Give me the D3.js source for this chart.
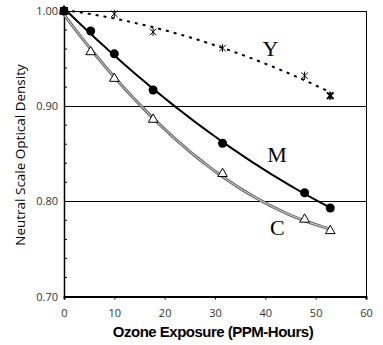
<!DOCTYPE html>
<html>
<head>
<meta charset="utf-8">
<script src="https://cdn.jsdelivr.net/npm/d3@7"></script>
<style>
body { margin: 0; background: #fff; }
svg { display: block; }
</style>
</head>
<body>
<div id="container"></div>
<script>
// exposure (PPM-Hours)
var exposure = [0, 5.3, 10, 17.7, 31.5, 47.8, 52.9];
var cyan = [1.0, 0.957, 0.929, 0.886, 0.829, 0.781, 0.769];
var magenta = [1.0, 0.979, 0.955, 0.917, 0.861, 0.809, 0.793];
var yellowX = [0, 10, 17.7, 31.5, 47.8, 52.9];
var yellow = [1.0, 0.997, 0.978, 0.961, 0.932, 0.911];
var xTicks = [0, 10, 20, 30, 40, 50, 60];
var yTicks = [0.70, 0.80, 0.90, 1.00];
var seriesNames = ["Y", "M", "C"];

var W = 383, H = 345;
var svg = d3.select("#container").append("svg")
	.attr("width", W)
	.attr("height", H);

var x = d3.scaleLinear().domain([0, 60]).range([64, 366]);
var y = d3.scaleLinear().domain([0.70, 1.00]).range([296.5, 11]);

// minor y ticks
var minor = d3.range(0.72, 1.0, 0.02).filter(function(v) {
	return Math.abs(v * 10 - Math.round(v * 10)) > 0.01;
});
svg.selectAll(".minor")
	.data(minor).enter()
	.append("line")
	.attr("x1", x(0)).attr("x2", x(0) + 3)
	.attr("y1", function(d) { return y(d); })
	.attr("y2", function(d) { return y(d); })
	.attr("stroke", "#000").attr("stroke-width", 1);

// grid lines
svg.selectAll(".grid")
	.data([0.80, 0.90, 1.00]).enter()
	.append("line")
	.attr("x1", x(0)).attr("x2", x(60))
	.attr("y1", function(d) { return Math.round(y(d)) + 0.5; })
	.attr("y2", function(d) { return Math.round(y(d)) + 0.5; })
	.attr("stroke", "#000").attr("stroke-width", 1);

// right border
svg.append("line")
	.attr("x1", x(60) + 0.5).attr("x2", x(60) + 0.5)
	.attr("y1", y(1)).attr("y2", y(0.7))
	.attr("stroke", "#000").attr("stroke-width", 1);

// axes
var xAxis = svg.append("g")
	.attr("transform", "translate(0," + y(0.7) + ")")
	.call(d3.axisBottom(x).tickValues(xTicks).tickSize(3).tickPadding(10).tickFormat(d3.format("d")));
xAxis.select(".domain").attr("stroke-width", 2);
xAxis.selectAll("text").attr("font-family", "'Open Sans', sans-serif").attr("font-size", 11).attr("fill", "#333");

var yAxis = svg.append("g")
	.attr("transform", "translate(" + x(0) + ",0)")
	.call(d3.axisLeft(y).tickValues(yTicks).tickSize(0).tickPadding(6).tickFormat(d3.format(".2f")));
yAxis.select(".domain").attr("stroke-width", 1.5);
yAxis.selectAll("text").attr("font-family", "'Open Sans', sans-serif").attr("font-size", 11).attr("fill", "#333");

function pts(xs, ys) {
	return xs.map(function(v, i) { return [v, ys[i]]; });
}

// quadratic least-squares trendline through the points
function quadFit(data) {
	var s = [0, 0, 0, 0, 0], t = [0, 0, 0];
	data.forEach(function(d) {
		var p = 1;
		for (var k = 0; k < 5; k++) { s[k] += p; if (k < 3) t[k] += p * d[1]; p *= d[0]; }
	});
	var A = [[s[0], s[1], s[2], t[0]], [s[1], s[2], s[3], t[1]], [s[2], s[3], s[4], t[2]]];
	for (var i = 0; i < 3; i++) {
		for (var j = i + 1; j < 3; j++) {
			var f = A[j][i] / A[i][i];
			for (var k = i; k < 4; k++) A[j][k] -= f * A[i][k];
		}
	}
	var c = [0, 0, 0];
	for (var i = 2; i >= 0; i--) {
		var v = A[i][3];
		for (var k = i + 1; k < 3; k++) v -= A[i][k] * c[k];
		c[i] = v / A[i][i];
	}
	var x0 = data[0][0], x1 = data[data.length - 1][0];
	return d3.range(0, 41).map(function(i) {
		var xv = x0 + (x1 - x0) * i / 40;
		return [xv, c[0] + c[1] * xv + c[2] * xv * xv];
	});
}

var line = d3.line()
	.x(function(d) { return x(d[0]); })
	.y(function(d) { return y(d[1]); });

var cData = pts(exposure, cyan);
var mData = pts(exposure, magenta);
var yData = pts(yellowX, yellow);

// C curve: double line
svg.append("path").attr("d", line(quadFit(cData)))
	.attr("fill", "none").attr("stroke", "#666").attr("stroke-width", 3);
svg.append("path").attr("d", line(quadFit(cData)))
	.attr("fill", "none").attr("stroke", "#ddd").attr("stroke-width", 1);

// M curve
svg.append("path").attr("d", line(quadFit(mData)))
	.attr("fill", "none").attr("stroke", "#000").attr("stroke-width", 2);

// Y curve
svg.append("path").attr("d", line(quadFit(yData)))
	.attr("fill", "none").attr("stroke", "#000").attr("stroke-width", 2)
	.attr("stroke-dasharray", "3,5");

// markers
var tri = d3.symbol().type(d3.symbolTriangle).size(40);
svg.selectAll(".tri")
	.data(cData).enter()
	.append("path")
	.attr("d", tri)
	.attr("transform", function(d) { return "translate(" + x(d[0]) + "," + y(d[1]) + ")"; })
	.attr("fill", "#fff").attr("stroke", "#000").attr("stroke-width", 1);

svg.selectAll(".dot")
	.data(mData).enter()
	.append("circle")
	.attr("cx", function(d) { return x(d[0]); })
	.attr("cy", function(d) { return y(d[1]); })
	.attr("r", 4.5)
	.attr("fill", "#000");

var star = d3.symbol().type(d3.symbolX).size(30);
svg.selectAll(".star")
	.data(yData).enter()
	.append("g")
	.attr("transform", function(d) { return "translate(" + x(d[0]) + "," + y(d[1]) + ")"; })
	.each(function(d, i) {
		var g = d3.select(this);
		var sw = i === yData.length - 1 ? 2 : 1;
		g.append("path").attr("d", star).attr("fill", "none").attr("stroke", "#000").attr("stroke-width", sw);
		g.append("line").attr("x1", 0).attr("x2", 0).attr("y1", -4).attr("y2", 4).attr("stroke", "#000").attr("stroke-width", sw);
	});

// square marker at origin
svg.append("rect")
	.attr("x", x(0) - 4).attr("y", y(1) - 4)
	.attr("width", 8).attr("height", 8)
	.attr("fill", "#000");

// series labels
var labelX = [41, 42.3, 42.4];
var labelY = [0.953, 0.841, 0.7645];
svg.selectAll(".lab")
	.data(seriesNames).enter()
	.append("text")
	.attr("x", function(d, i) { return x(labelX[i]); })
	.attr("y", function(d, i) { return y(labelY[i]); })
	.attr("text-anchor", "middle")
	.attr("font-family", "'Liberation Serif', serif")
	.attr("font-size", 22)
	.text(function(d) { return d; });

// axis titles
svg.append("text")
	.attr("x", 213).attr("y", 337)
	.attr("text-anchor", "middle")
	.attr("font-family", "'Liberation Sans', Arial, sans-serif")
	.attr("font-weight", "bold")
	.attr("font-size", 15)
	.attr("letter-spacing", -0.5)
	.text("Ozone Exposure (PPM-Hours)");

svg.append("text")
	.attr("transform", "translate(25,155) rotate(-90)")
	.attr("text-anchor", "middle")
	.attr("font-family", "'Open Sans', sans-serif")
	.attr("font-size", 13.5)
	.text("Neutral Scale Optical Density");
</script>
</body>
</html>
